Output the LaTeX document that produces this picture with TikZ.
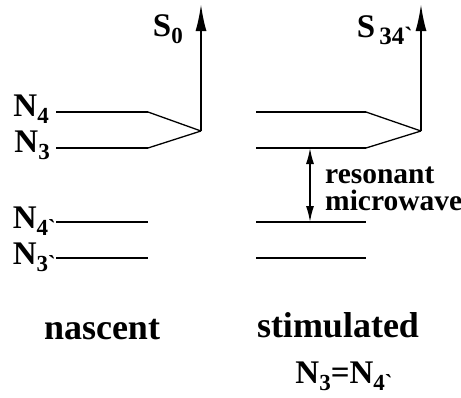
\documentclass[tikz,border=0pt]{standalone}
\usepackage{fontspec}
\usetikzlibrary{arrows.meta}
\newfontfamily\tms{Liberation Serif}
% level name with lowered index
\newcommand{\lvl}[3][23]{#2\raisebox{-0.24em}{\fontsize{#1}{#1}\selectfont #3}}

\begin{document}
\begin{tikzpicture}[x=1pt, y=-1pt,
  level/.style={line width=2pt},
  tie/.style={line width=1.3pt},
  lbl/.style={inner sep=0pt, font=\tms\bfseries\fontsize{33}{35}\selectfont},
  big/.style={inner sep=0pt, anchor=base, font=\tms\bfseries\fontsize{36}{38}\selectfont},
  note/.style={inner sep=0pt, anchor=base west, font=\tms\bfseries\fontsize{29.5}{31}\selectfont},
  arrow/.style={-{Latex[length=27pt,width=11pt]}, line width=2pt},
  both/.style={{Latex[length=16pt,width=8pt]}-{Latex[length=16pt,width=8pt]}, line width=1.5pt}
]
\useasboundingbox (0,0) rectangle (461,397);

% nascent levels
\coordinate (a4) at (56,112);  \coordinate (a4e) at (148,112);
\coordinate (a3) at (56,148);  \coordinate (a3e) at (148,148);
\coordinate (a4p) at (56,222); \coordinate (a4pe) at (148,222);
\coordinate (a3p) at (56,258); \coordinate (a3pe) at (148,258);
\coordinate (ja) at (201,131);
\coordinate (sa) at (201,4);

% stimulated levels
\coordinate (b4) at (256,112);  \coordinate (b4e) at (366,112);
\coordinate (b3) at (256,148);  \coordinate (b3e) at (366,148);
\coordinate (b4p) at (256,222); \coordinate (b4pe) at (366,222);
\coordinate (b3p) at (256,258); \coordinate (b3pe) at (366,258);
\coordinate (jb) at (421,131);
\coordinate (sb) at (421,4);
\coordinate (mt) at (310,148);
\coordinate (mb) at (310,222);

\draw[level] (a4) -- (a4e);
\draw[level] (a3) -- (a3e);
\draw[level] (a4p) -- (a4pe);
\draw[level] (a3p) -- (a3pe);
\draw[tie] (a4e) -- (ja);
\draw[tie] (a3e) -- (ja);
\draw[arrow] (ja) -- (sa);

\draw[level] (b4) -- (b4e);
\draw[level] (b3) -- (b3e);
\draw[level] (b4p) -- (b4pe);
\draw[level] (b3p) -- (b3pe);
\draw[tie] (b4e) -- (jb);
\draw[tie] (b3e) -- (jb);
\draw[arrow] (jb) -- (sb);
\draw[both] (mt) -- (mb);

\node[lbl, anchor=base east] (n4) at (49,116) {\lvl{N}{4}};
\node[lbl, anchor=base east] (n3) at (50,152) {\lvl{N}{3}};
\node[lbl, anchor=base east] (n4p) at (56,228) {\lvl{N}{4`}};
\node[lbl, anchor=base east] (n3p) at (56,264) {\lvl{N}{3`}};
\node[lbl, anchor=base east] (s0) at (183,36) {\lvl{S}{0}};
\node[lbl, anchor=base east] (s34) at (413,37) {\lvl[25]{S}{\,34`}};

\node[note] (res) at (325,183) {resonant};
\node[note] (mw) at (325,210) {microwave};

\node[big] (nas) at (102,339) {nascent};
\node[big] (sti) at (338,337) {stimulated};
\node[lbl, anchor=base] (eq) at (344,383) {\lvl{N}{3}=\lvl{N}{4`}};
\end{tikzpicture}
\end{document}
